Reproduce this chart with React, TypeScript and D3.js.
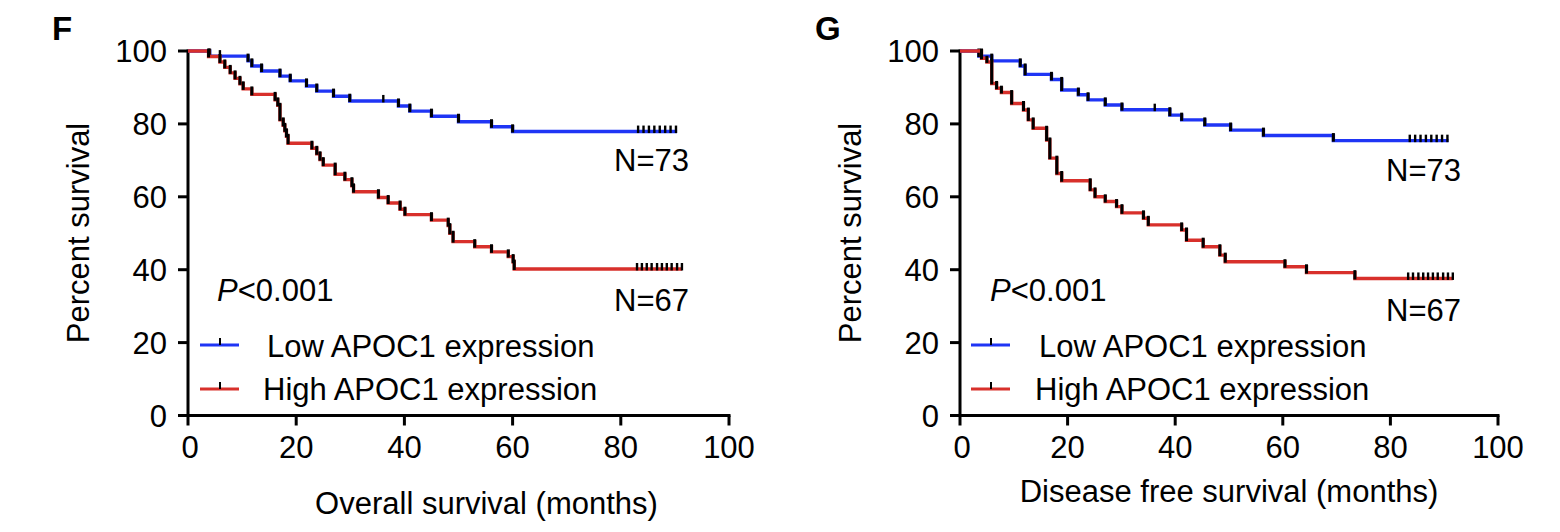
import React from "react";
import * as d3 from "d3";

// ---------- data ----------
const xTicks = [0, 20, 40, 60, 80, 100];
const yTicks = [0, 20, 40, 60, 80, 100];

// Panel F: overall survival
const osLowTimes = [4.0, 11.1, 11.8, 13.6, 17.0, 18.9, 21.9, 23.8, 26.9, 29.9, 38.9, 41.0, 45.0, 50.0, 56.1, 60.0];
const osLowSurv = [98.6, 97.3, 95.9, 94.5, 93.1, 91.8, 90.4, 89.0, 87.6, 86.3, 84.9, 83.5, 82.1, 80.6, 79.2, 77.9];
const osLowCensor = [5.9, 36.1, 83.2, 84.2, 85.2, 86.2, 87.2, 88.2, 89.2, 90.2];
const osLowEnd = 90.4;

const osHighTimes = [3.8, 5.9, 6.8, 7.8, 8.7, 9.6, 10.2, 11.8, 16.1, 16.6, 17.0, 17.6, 17.9, 18.2, 18.5, 22.9, 23.8, 24.4, 25.0, 27.2, 29.0, 30.3, 30.6, 35.2, 37.0, 39.2, 40.1, 45.0, 48.1, 48.4, 49.0, 53.0, 56.1, 59.2, 60.1, 60.3];
const osHighSurv = [98.5, 97.0, 95.5, 94.0, 92.5, 91.0, 89.6, 88.1, 86.6, 85.1, 81.1, 79.6, 78.1, 76.6, 74.7, 73.3, 71.8, 70.2, 68.7, 66.2, 64.7, 63.0, 61.4, 59.8, 58.3, 56.6, 55.1, 53.6, 52.1, 50.0, 47.7, 46.3, 44.9, 43.6, 42.1, 40.2];
const osHighCensor = [83.0, 83.9, 84.8, 85.7, 86.7, 87.6, 88.5, 89.4, 90.4, 91.3];
const osHighEnd = 91.3;

// Panel G: disease free survival
const dfsLowTimes = [3.5, 5.9, 11.2, 12.1, 17.0, 18.9, 22.0, 23.8, 27.0, 30.1, 39.0, 41.2, 45.5, 50.3, 56.4, 69.4];
const dfsLowSurv = [98.6, 97.3, 95.9, 93.6, 92.2, 89.3, 88.0, 86.6, 85.2, 83.9, 82.4, 81.1, 79.7, 78.3, 76.8, 75.4];
const dfsLowCensor = [4.0, 36.2, 83.6, 84.6, 85.6, 86.6, 87.6, 88.6, 89.6, 90.6];
const dfsLowEnd = 90.8;

const dfsHighTimes = [4.0, 5.0, 5.9, 6.8, 7.7, 9.6, 11.8, 12.7, 13.6, 16.1, 16.7, 18.0, 18.9, 24.2, 25.1, 27.0, 29.1, 30.1, 34.1, 35.0, 41.2, 42.1, 45.2, 48.3, 49.3, 60.4, 64.4, 73.4];
const dfsHighSurv = [98.0, 97.0, 91.1, 89.8, 88.6, 85.6, 83.8, 81.1, 78.8, 75.6, 70.6, 66.4, 64.4, 61.9, 60.0, 58.7, 57.3, 55.6, 54.1, 52.3, 50.9, 48.1, 46.3, 44.0, 42.2, 40.8, 39.2, 37.6];
const dfsHighCensor = [83.3, 84.2, 85.2, 86.1, 87.0, 87.9, 88.8, 89.8, 90.7, 91.6];
const dfsHighEnd = 91.6;

const BLUE = "#1f35f5";
const RED = "#d8302b";
const FONT = "'Liberation Sans', Arial, Helvetica, sans-serif";
const FS = 31;

type Series = { times: number[]; surv: number[]; censor: number[]; end: number; color: string };

function survAt(s: Series, t: number) {
  let v = 100;
  for (let i = 0; i < s.times.length; i++) if (s.times[i] <= t) v = s.surv[i];
  return v;
}

function Curve({ s, x, y }: { s: Series; x: d3.ScaleLinear<number, number>; y: d3.ScaleLinear<number, number> }) {
  const pts: [number, number][] = [[0, 100]];
  s.times.forEach((t, i) => pts.push([t, s.surv[i]]));
  pts.push([s.end, s.surv[s.surv.length - 1]]);
  const line = d3
    .line<[number, number]>()
    .x((d) => x(d[0]))
    .y((d) => y(d[1]))
    .curve(d3.curveStepAfter);
  return (
    <g>
      <path d={line(pts) || ""} fill="none" stroke={s.color} strokeWidth={3.4} />
      {s.times.map((t, i) => {
        const prev = i === 0 ? 100 : s.surv[i - 1];
        return (
          <line key={"d" + i} x1={x(t)} x2={x(t)} y1={y(prev) - 2.5} y2={y(s.surv[i]) + 1} stroke="#000" strokeWidth={3} />
        );
      })}
      {s.censor.map((c, i) => {
        const v = survAt(s, c);
        return <line key={"c" + i} x1={x(c)} x2={x(c)} y1={y(v) - 6} y2={y(v) + 1.5} stroke="#000" strokeWidth={2.4} />;
      })}
    </g>
  );
}

function Panel({
  x0, x1, letter, letterX, xLabel, low, high, pX, nX, n73Y, n67Y, legX, legTextX,
}: {
  x0: number; x1: number; letter: string; letterX: number; xLabel: string; low: Series; high: Series;
  pX: number; nX: number; n73Y: number; n67Y: number; legX: number; legTextX: number;
}) {
  const x = d3.scaleLinear().domain([0, 100]).range([x0, x1]);
  const y = d3.scaleLinear().domain([0, 100]).range([415.5, 51]);
  const y0 = y(0);
  return (
    <g fontFamily={FONT} fill="#000">
      <text x={letterX} y={40} fontSize={33} fontWeight="bold">{letter}</text>
      {/* axes */}
      <line x1={x0} x2={x0} y1={y(100) - 1.5} y2={y0 + 10} stroke="#000" strokeWidth={3} />
      <line x1={x0 - 10} x2={x(100) + 1.5} y1={y0} y2={y0} stroke="#000" strokeWidth={3} />
      {yTicks.map((t) => (
        <g key={"y" + t}>
          {t > 0 && <line x1={x0 - 10} x2={x0} y1={y(t)} y2={y(t)} stroke="#000" strokeWidth={3} />}
          <text x={x0 - 21} y={y(t)} dy="0.36em" textAnchor="end" fontSize={FS}>{t}</text>
        </g>
      ))}
      {xTicks.map((t) => (
        <g key={"x" + t}>
          {t > 0 && <line x1={x(t)} x2={x(t)} y1={y0} y2={y0 + 10} stroke="#000" strokeWidth={3} />}
          <text x={x(t) + (t === 0 ? 2 : 0)} y={458} textAnchor="middle" fontSize={FS}>{t}</text>
        </g>
      ))}
      <text transform={`translate(${x0 - 99},233) rotate(-90)`} textAnchor="middle" fontSize={FS}>Percent survival</text>
      <text x={(x0 + x1) / 2 + (letter === "F" ? 28 : 0)} y={letter === "F" ? 514 : 502} textAnchor="middle" fontSize={FS}>{xLabel}</text>
      {/* curves */}
      <Curve s={low} x={x} y={y} />
      <Curve s={high} x={x} y={y} />
      {/* annotations */}
      <text x={pX} y={301} fontSize={FS}><tspan fontStyle="italic">P</tspan>&lt;0.001</text>
      <text x={nX} y={n73Y} fontSize={FS}>N=73</text>
      <text x={nX} y={n67Y} fontSize={FS}>N=67</text>
      {/* legend */}
      <line x1={legX} x2={legX + 39} y1={345} y2={345} stroke={low.color} strokeWidth={3} />
      <line x1={legX + 20} x2={legX + 20} y1={338} y2={345} stroke="#000" strokeWidth={2} />
      <text x={legTextX + 4} y={357} fontSize={FS}>Low APOC1 expression</text>
      <line x1={legX} x2={legX + 39} y1={389} y2={389} stroke={high.color} strokeWidth={3} />
      <line x1={legX + 20} x2={legX + 20} y1={382} y2={389} stroke="#000" strokeWidth={2} />
      <text x={legTextX} y={400} fontSize={FS}>High APOC1 expression</text>
    </g>
  );
}

export default function App() {
  const osLow: Series = { times: osLowTimes, surv: osLowSurv, censor: osLowCensor, end: osLowEnd, color: BLUE };
  const osHigh: Series = { times: osHighTimes, surv: osHighSurv, censor: osHighCensor, end: osHighEnd, color: RED };
  const dfsLow: Series = { times: dfsLowTimes, surv: dfsLowSurv, censor: dfsLowCensor, end: dfsLowEnd, color: BLUE };
  const dfsHigh: Series = { times: dfsHighTimes, surv: dfsHighSurv, censor: dfsHighCensor, end: dfsHighEnd, color: RED };
  return (
    <svg width={1560} height={532} style={{ position: "absolute", left: 0, top: 0, background: "#fff" }}>
      <rect width={1560} height={532} fill="#fff" />
      <Panel x0={188} x1={729} letter="F" letterX={52} xLabel="Overall survival (months)" low={osLow} high={osHigh}
        pX={217} nX={614} n73Y={171} n67Y={311} legX={200} legTextX={263} />
      <Panel x0={960} x1={1498} letter="G" letterX={815} xLabel="Disease free survival (months)" low={dfsLow} high={dfsHigh}
        pX={990} nX={1386} n73Y={181} n67Y={321} legX={971} legTextX={1035} />
    </svg>
  );
}
